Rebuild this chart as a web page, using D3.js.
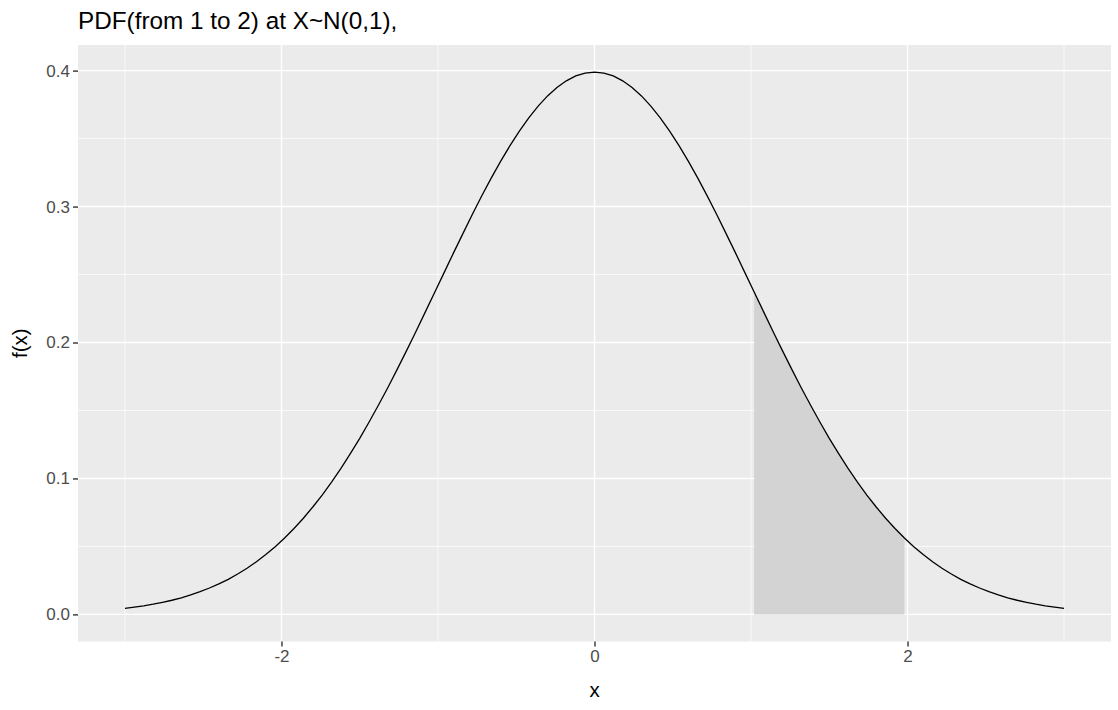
<!DOCTYPE html>
<html>
<head>
<meta charset="utf-8">
<script src="https://cdn.jsdelivr.net/npm/d3@7"></script>
<style>
  body { margin: 0; background: #fff; }
  svg { display: block; font-family: "Liberation Sans", Arial, sans-serif; }
</style>
</head>
<body>
<div id="chart-area"></div>
<script>
// curve points (101 points from -3 to 3)
const xValues = [
  -3.00, -2.94, -2.88, -2.82, -2.76, -2.70, -2.64, -2.58, -2.52, -2.46,
  -2.40, -2.34, -2.28, -2.22, -2.16, -2.10, -2.04, -1.98, -1.92, -1.86,
  -1.80, -1.74, -1.68, -1.62, -1.56, -1.50, -1.44, -1.38, -1.32, -1.26,
  -1.20, -1.14, -1.08, -1.02, -0.96, -0.90, -0.84, -0.78, -0.72, -0.66,
  -0.60, -0.54, -0.48, -0.42, -0.36, -0.30, -0.24, -0.18, -0.12, -0.06,
  0.00,
  0.06, 0.12, 0.18, 0.24, 0.30, 0.36, 0.42, 0.48, 0.54, 0.60,
  0.66, 0.72, 0.78, 0.84, 0.90, 0.96, 1.02, 1.08, 1.14, 1.20,
  1.26, 1.32, 1.38, 1.44, 1.50, 1.56, 1.62, 1.68, 1.74, 1.80,
  1.86, 1.92, 1.98, 2.04, 2.10, 2.16, 2.22, 2.28, 2.34, 2.40,
  2.46, 2.52, 2.58, 2.64, 2.70, 2.76, 2.82, 2.88, 2.94, 3.00
];
const fxValues = [
  0.0044, 0.0053, 0.0063, 0.0075, 0.0089, 0.0104, 0.0122, 0.0143, 0.0167, 0.0194,
  0.0224, 0.0258, 0.0297, 0.0339, 0.0387, 0.0440, 0.0498, 0.0562, 0.0632, 0.0707,
  0.0790, 0.0878, 0.0973, 0.1074, 0.1182, 0.1295, 0.1415, 0.1540, 0.1669, 0.1804,
  0.1942, 0.2083, 0.2227, 0.2371, 0.2516, 0.2661, 0.2803, 0.2943, 0.3079, 0.3209,
  0.3332, 0.3448, 0.3555, 0.3653, 0.3739, 0.3814, 0.3876, 0.3925, 0.3961, 0.3982,
  0.3989,
  0.3982, 0.3961, 0.3925, 0.3876, 0.3814, 0.3739, 0.3653, 0.3555, 0.3448, 0.3332,
  0.3209, 0.3079, 0.2943, 0.2803, 0.2661, 0.2516, 0.2371, 0.2227, 0.2083, 0.1942,
  0.1804, 0.1669, 0.1540, 0.1415, 0.1295, 0.1182, 0.1074, 0.0973, 0.0878, 0.0790,
  0.0707, 0.0632, 0.0562, 0.0498, 0.0440, 0.0387, 0.0339, 0.0297, 0.0258, 0.0224,
  0.0194, 0.0167, 0.0143, 0.0122, 0.0104, 0.0089, 0.0075, 0.0063, 0.0053, 0.0044
];
const shadeFrom = 1, shadeTo = 2;

const xMajor = [-2, 0, 2], xMinor = [-3, -1, 1, 3];
const xTickLabels = ['-2', '0', '2'];
const yMajor = [0, 0.1, 0.2, 0.3, 0.4], yMinor = [0.05, 0.15, 0.25, 0.35];
const yTickLabels = ['0.0', '0.1', '0.2', '0.3', '0.4'];

const titleText = 'PDF(from 1 to 2) at X~N(0,1),';

const W = 1118, H = 710;
const panel = {left: 78, right: 1111, top: 45, bottom: 641.5};

const data = xValues.map((x, i) => ({x: x, y: fxValues[i]}));
const shaded = data.filter(d => d.x >= shadeFrom && d.x <= shadeTo);

const svg = d3.select('#chart-area')
    .append('svg')
    .attr('width', W)
    .attr('height', H);

// ggplot style 5% expansion
const xExt = d3.extent(xValues), xPad = (xExt[1] - xExt[0]) * 0.05;
const yExt = [0, d3.max(fxValues)], yPad = (yExt[1] - yExt[0]) * 0.05;

const xScale = d3.scaleLinear()
    .domain([xExt[0] - xPad, xExt[1] + xPad])
    .range([panel.left, panel.right]);

const yScale = d3.scaleLinear()
    .domain([yExt[0] - yPad, yExt[1] + yPad])
    .range([panel.bottom, panel.top]);

svg.append('rect')
    .attr('x', panel.left)
    .attr('y', panel.top)
    .attr('width', panel.right - panel.left)
    .attr('height', panel.bottom - panel.top)
    .attr('fill', '#ebebeb');

const grid = svg.append('g').attr('stroke', '#fff');

grid.selectAll('.ymin').data(yMinor).enter().append('line')
    .attr('x1', panel.left).attr('x2', panel.right)
    .attr('y1', d => yScale(d)).attr('y2', d => yScale(d))
    .attr('stroke-width', 0.7);
grid.selectAll('.xmin').data(xMinor).enter().append('line')
    .attr('y1', panel.top).attr('y2', panel.bottom)
    .attr('x1', d => xScale(d)).attr('x2', d => xScale(d))
    .attr('stroke-width', 0.7);
grid.selectAll('.ymaj').data(yMajor).enter().append('line')
    .attr('x1', panel.left).attr('x2', panel.right)
    .attr('y1', d => yScale(d)).attr('y2', d => yScale(d))
    .attr('stroke-width', 1.4);
grid.selectAll('.xmaj').data(xMajor).enter().append('line')
    .attr('y1', panel.top).attr('y2', panel.bottom)
    .attr('x1', d => xScale(d)).attr('x2', d => xScale(d))
    .attr('stroke-width', 1.4);

// shaded region from 1 to 2
const area = d3.area()
    .x(d => xScale(d.x))
    .y0(yScale(0))
    .y1(d => yScale(d.y));

svg.append('path')
    .datum(shaded)
    .attr('d', area)
    .attr('fill', '#d3d3d3');

const line = d3.line()
    .x(d => xScale(d.x))
    .y(d => yScale(d.y));

svg.append('path')
    .datum(data)
    .attr('d', line)
    .attr('fill', 'none')
    .attr('stroke', '#000')
    .attr('stroke-width', 1.3);

// axes
const xAxis = d3.axisBottom(xScale)
    .tickValues(xMajor)
    .tickSize(5)
    .tickPadding(3)
    .tickFormat((d, i) => xTickLabels[i]);

const yAxis = d3.axisLeft(yScale)
    .tickValues(yMajor)
    .tickSize(5)
    .tickPadding(3)
    .tickFormat((d, i) => yTickLabels[i]);

const xAxisGroup = svg.append('g')
    .attr('transform', 'translate(0, ' + panel.bottom + ')')
    .call(xAxis);

const yAxisGroup = svg.append('g')
    .attr('transform', 'translate(' + panel.left + ', 0)')
    .call(yAxis);

[xAxisGroup, yAxisGroup].forEach(g => {
    g.attr('font-size', null).attr('font-family', null);
    g.select('.domain').remove();
    g.selectAll('.tick line').attr('stroke', '#333').attr('stroke-width', 1.4);
    g.selectAll('.tick text')
        .attr('fill', '#4d4d4d')
        .style('font-size', '17px')
        .style('font-family', '"Liberation Sans", Arial, sans-serif');
});

svg.append('text')
    .text('x')
    .attr('x', (panel.left + panel.right) / 2)
    .attr('y', 697)
    .attr('text-anchor', 'middle')
    .style('font-size', '20.5px')
    .attr('fill', '#000');

svg.append('text')
    .text('f(x)')
    .attr('transform', 'translate(27, ' + ((panel.top + panel.bottom) / 2) + ') rotate(-90)')
    .attr('text-anchor', 'middle')
    .style('font-size', '20.5px')
    .attr('fill', '#000');

svg.append('text')
    .text(titleText)
    .attr('x', panel.left)
    .attr('y', 29)
    .style('font-size', '24.3px')
    .attr('fill', '#000');
</script>
</body>
</html>
